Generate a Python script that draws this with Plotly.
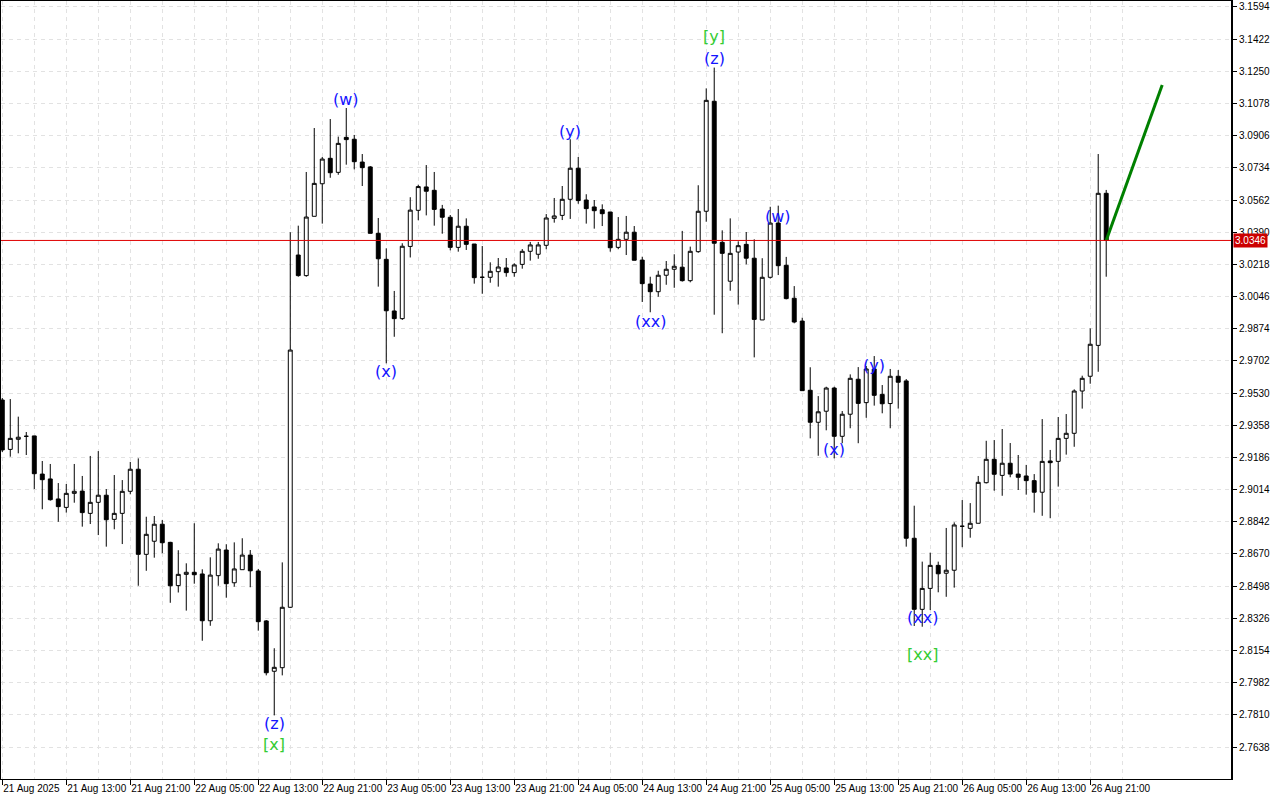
import pandas as pd
import plotly.graph_objects as go

# ---------------- data ----------------
times = pd.date_range("2025-08-21 05:00", periods=139, freq="h")

open_ = [2.9493, 2.9229, 2.9283, 2.9299, 2.9301, 2.9097, 2.9071, 2.8964, 2.8919, 2.8994,
         2.9006, 2.8887, 2.8946, 2.8984, 2.8855, 2.8887, 2.9005, 2.9123, 2.8668, 2.8738,
         2.8829, 2.8732, 2.8501, 2.8561, 2.8572, 2.8563, 2.8313, 2.8554, 2.8691, 2.8516,
         2.8586, 2.8664, 2.8579, 2.8312, 2.8043, 2.8062, 2.8385, 3.0268, 3.0158, 3.0475,
         3.0649, 3.0785, 3.0710, 3.0897, 3.0887, 3.0765, 3.0739, 3.0384, 3.0245, 2.9969,
         2.9928, 3.0314, 3.0507, 3.0632, 3.0614, 3.0514, 3.0470, 3.0309, 3.0422, 3.0327,
         3.0149, 3.0149, 3.0179, 3.0199, 3.0174, 3.0218, 3.0288, 3.0272, 3.0320, 3.0464,
         3.0480, 3.0566, 3.0732, 3.0562, 3.0525, 3.0510, 3.0498, 3.0309, 3.0352, 3.0390,
         3.0241, 3.0113, 3.0072, 3.0160, 3.0192, 3.0203, 3.0131, 3.0286, 3.0502, 3.1090,
         3.0336, 3.0128, 3.0284, 3.0325, 3.0251, 2.9921, 3.0149, 3.0439, 3.0213, 3.0037,
         2.9915, 2.9545, 2.9374, 2.9433, 2.9557, 2.9299, 2.9417, 2.9604, 2.9479, 2.9659,
         2.9523, 2.9474, 2.9620, 2.9595, 2.8754, 2.8374, 2.8486, 2.8609, 2.8567, 2.8583,
         2.8818, 2.8807, 2.8834, 2.9051, 2.9176, 2.9090, 2.9155, 2.9097, 2.9087, 2.9062,
         2.9000, 2.9167, 2.9165, 2.9288, 2.9315, 2.9541, 2.9620, 2.9785, 3.0598]

high = [2.9504, 2.9498, 2.9404, 2.9322, 2.9301, 2.9167, 2.9151, 2.9049, 2.9044, 2.9151,
        2.9087, 2.9194, 2.9220, 2.9017, 2.9092, 2.9065, 2.9162, 2.9181, 2.8869, 2.8873,
        2.8852, 2.8735, 2.8690, 2.8620, 2.8834, 2.8588, 2.8652, 2.8727, 2.8722, 2.8732,
        2.8754, 2.8691, 2.8590, 2.8317, 2.8166, 2.8625, 3.0390, 3.0425, 3.0712, 3.0947,
        3.0792, 3.0995, 3.0901, 3.1054, 3.0910, 3.0808, 3.0744, 3.0466, 3.0304, 3.0076,
        3.0331, 3.0577, 3.0644, 3.0749, 3.0712, 3.0536, 3.0482, 3.0514, 3.0464, 3.0327,
        3.0316, 3.0229, 3.0252, 3.0252, 3.0224, 3.0300, 3.0338, 3.0338, 3.0487, 3.0573,
        3.0637, 3.0887, 3.0792, 3.0593, 3.0562, 3.0539, 3.0498, 3.0471, 3.0477, 3.0423,
        3.0259, 3.0152, 3.0184, 3.0236, 3.0272, 3.0397, 3.0313, 3.0641, 3.1159, 3.1270,
        3.0400, 3.0464, 3.0341, 3.0391, 3.0352, 3.0251, 3.0526, 3.0532, 3.0258, 3.0102,
        2.9933, 2.9668, 2.9514, 2.9564, 2.9564, 2.9434, 2.9630, 2.9669, 2.9675, 2.9728,
        2.9573, 2.9659, 2.9653, 2.9605, 2.8928, 2.8629, 2.8677, 2.8629, 2.8809, 2.8839,
        2.8958, 2.8942, 2.9087, 2.9275, 2.9279, 2.9338, 2.9263, 2.9199, 2.9146, 2.9097,
        2.9391, 2.9226, 2.9402, 2.9418, 2.9550, 2.9623, 2.9876, 3.0808, 3.0616]

low = [2.9215, 2.9190, 2.9208, 2.9199, 2.9017, 2.8909, 2.8955, 2.8842, 2.8891, 2.8944,
       2.8816, 2.8830, 2.8771, 2.8709, 2.8802, 2.8723, 2.8989, 2.8500, 2.8580, 2.8650,
       2.8674, 2.8409, 2.8464, 2.8367, 2.8511, 2.8206, 2.8286, 2.8500, 2.8436, 2.8495,
       2.8586, 2.8492, 2.8260, 2.8021, 2.7807, 2.8021, 2.8381, 3.0152, 3.0152, 3.0475,
       3.0436, 3.0681, 3.0697, 3.0751, 3.0726, 3.0637, 3.0384, 3.0099, 2.9689, 2.9831,
       2.9921, 3.0255, 3.0454, 3.0480, 3.0425, 3.0382, 3.0293, 3.0286, 3.0295, 3.0115,
       3.0061, 3.0120, 3.0099, 3.0152, 3.0152, 3.0195, 3.0238, 3.0248, 3.0299, 3.0441,
       3.0455, 3.0461, 3.0542, 3.0436, 3.0409, 3.0423, 3.0286, 3.0299, 3.0268, 3.0240,
       3.0017, 2.9962, 3.0045, 3.0109, 3.0093, 3.0126, 3.0122, 3.0280, 3.0446, 2.9949,
       2.9850, 3.0077, 3.0003, 3.0218, 2.9721, 2.9921, 3.0142, 3.0161, 3.0031, 2.9903,
       2.9543, 2.9288, 2.9195, 2.9331, 2.9181, 2.9262, 2.9342, 2.9262, 2.9398, 2.9463,
       2.9422, 2.9342, 2.9447, 2.8709, 2.8285, 2.8281, 2.8370, 2.8465, 2.8441, 2.8490,
       2.8706, 2.8757, 2.8834, 2.9047, 2.9008, 2.8981, 2.9080, 2.9012, 2.8987, 2.8891,
       2.8874, 2.8861, 2.9030, 2.9201, 2.9243, 2.9447, 2.9580, 2.9644, 3.0152]

close = [2.9226, 2.9288, 2.9294, 2.9299, 2.9099, 2.9067, 2.8960, 2.8923, 2.8994, 2.9005,
         2.8891, 2.8946, 2.8984, 2.8853, 2.8887, 2.9005, 2.9123, 2.8668, 2.8775, 2.8829,
         2.8730, 2.8500, 2.8561, 2.8572, 2.8559, 2.8313, 2.8557, 2.8696, 2.8511, 2.8590,
         2.8664, 2.8580, 2.8308, 2.8035, 2.8064, 2.8385, 2.9760, 3.0158, 3.0471, 3.0651,
         3.0781, 3.0708, 3.0865, 3.0885, 3.0767, 3.0735, 3.0384, 3.0248, 2.9970, 2.9928,
         3.0315, 3.0508, 3.0634, 3.0609, 3.0512, 3.0470, 3.0309, 3.0422, 3.0325, 3.0147,
         3.0149, 3.0181, 3.0204, 3.0174, 3.0215, 3.0288, 3.0322, 3.0322, 3.0466, 3.0477,
         3.0566, 3.0732, 3.0559, 3.0516, 3.0505, 3.0489, 3.0307, 3.0352, 3.0390, 3.0240,
         3.0115, 3.0072, 3.0160, 3.0192, 3.0208, 3.0131, 3.0288, 3.0502, 3.1095, 3.0331,
         3.0277, 3.0277, 3.0318, 3.0251, 2.9924, 3.0149, 3.0439, 3.0211, 3.0035, 2.9910,
         2.9543, 2.9374, 2.9430, 2.9557, 2.9299, 2.9417, 2.9609, 2.9475, 2.9659, 2.9518,
         2.9473, 2.9620, 2.9588, 2.8754, 2.8374, 2.8486, 2.8609, 2.8564, 2.8583, 2.8825,
         2.8818, 2.8834, 2.9053, 2.9176, 2.9096, 2.9155, 2.9097, 2.9080, 2.9062, 2.9000,
         2.9165, 2.9158, 2.9288, 2.9315, 2.9541, 2.9609, 2.9791, 3.0598, 3.0346]

current_price = 3.0346

forecast_times = ["2025-08-26 23:00", "2025-08-27 06:00"]
forecast_prices = [3.0346, 3.1177]

price_ticks = [3.1594, 3.1422, 3.1250, 3.1078, 3.0906, 3.0734, 3.0562, 3.0390,
               3.0218, 3.0046, 2.9874, 2.9702, 2.9530, 2.9358, 2.9186, 2.9014,
               2.8842, 2.8670, 2.8498, 2.8326, 2.8154, 2.7982, 2.7810, 2.7638]

x_tick_times = pd.date_range("2025-08-21 05:00", periods=18, freq="8h")
x_tick_labels = ["21 Aug 2025", "21 Aug 13:00", "21 Aug 21:00", "22 Aug 05:00",
                 "22 Aug 13:00", "22 Aug 21:00", "23 Aug 05:00", "23 Aug 13:00",
                 "23 Aug 21:00", "24 Aug 05:00", "24 Aug 13:00", "24 Aug 21:00",
                 "25 Aug 05:00", "25 Aug 13:00", "25 Aug 21:00", "26 Aug 05:00",
                 "26 Aug 13:00", "26 Aug 21:00"]

wave_texts = ["(w)", "(x)", "(y)", "(xx)", "[y]", "(z)", "(w)", "(x)", "(y)",
              "(xx)", "[xx]", "(z)", "[x]"]
wave_times = ["2025-08-23 00:00", "2025-08-23 05:00", "2025-08-24 04:00",
              "2025-08-24 14:00", "2025-08-24 22:00", "2025-08-24 22:00",
              "2025-08-25 06:00", "2025-08-25 13:00", "2025-08-25 18:00",
              "2025-08-26 00:00", "2025-08-26 00:00", "2025-08-22 15:00",
              "2025-08-22 15:00"]
wave_prices = [3.1102, 2.9643, 3.0931, 2.9915, 3.1434, 3.1321, 3.0473, 2.9231,
               2.9680, 2.8329, 2.8130, 2.7766, 2.7654]
wave_degree = ["minor", "minor", "minor", "minor", "major", "minor", "minor",
               "minor", "minor", "minor", "major", "minor", "major"]

# ---------------- figure ----------------
BLUE = "#1414ff"
GREEN = "#33cc33"
GRID = "#e2e2e2"

fig = go.Figure()

fig.add_trace(go.Candlestick(
    x=times, open=open_, high=high, low=low, close=close,
    increasing=dict(fillcolor="white", line=dict(color="black", width=1)),
    decreasing=dict(fillcolor="black", line=dict(color="black", width=1)),
    whiskerwidth=0, showlegend=False, hoverinfo="skip",
))

fig.add_trace(go.Scatter(
    x=pd.to_datetime(forecast_times), y=forecast_prices, mode="lines",
    line=dict(color="#008000", width=3), showlegend=False, hoverinfo="skip",
))

fig.add_hline(y=current_price, line=dict(color="#e00000", width=1))

fig.add_annotation(
    x=1, xref="paper", xanchor="left", xshift=2,
    y=current_price, yref="y", yanchor="middle",
    text="3.0346", showarrow=False,
    font=dict(family="Liberation Sans", size=10, color="white"),
    bgcolor="#cc0000", borderpad=1,
)

for txt, t, p, deg in zip(wave_texts, wave_times, wave_prices, wave_degree):
    fig.add_annotation(
        x=pd.Timestamp(t), y=p, text=txt, showarrow=False,
        xanchor="center", yanchor="middle",
        font=dict(family="DejaVu Sans", size=16,
                  color=GREEN if deg == "major" else BLUE),
    )

fig.update_layout(
    width=1280, height=800,
    margin=dict(l=1, r=49, t=1, b=21, autoexpand=False),
    paper_bgcolor="white", plot_bgcolor="white",
    boxgap=0.3, boxgroupgap=0.3,
    font=dict(family="Liberation Sans", size=10, color="black"),
)

fig.update_xaxes(
    type="date",
    range=[pd.Timestamp("2025-08-21 04:50:24"), pd.Timestamp("2025-08-27 14:36")],
    rangeslider=dict(visible=False),
    tickmode="array", tickvals=x_tick_times, ticktext=x_tick_labels,
    tickangle=0, automargin=False,
    ticks="outside", ticklen=5, tickcolor="black",
    ticklabelposition="outside right",
    tickfont=dict(family="Liberation Sans", size=10, color="black"),
    showgrid=True, gridcolor=GRID, griddash="4px,4px", gridwidth=1,
    minor=dict(tickmode="array",
               tickvals=pd.date_range("2025-08-21 09:00", periods=18, freq="8h"),
               showgrid=True, gridcolor=GRID, griddash="4px,4px", ticks=""),
    showline=True, linecolor="black", linewidth=1, mirror=True,
    zeroline=False,
)

fig.update_yaxes(
    side="right", automargin=False,
    range=[2.7467, 3.1626],
    tickmode="array", tickvals=price_ticks,
    ticktext=[f"{v:.4f}" for v in price_ticks],
    ticks="outside", ticklen=4, tickcolor="black",
    tickfont=dict(family="Liberation Sans", size=10, color="black"),
    showgrid=True, gridcolor=GRID, griddash="4px,4px", gridwidth=1,
    showline=True, linecolor="black", linewidth=2, mirror=True,
    zeroline=False,
)

fig.write_html(
    "out.html",
    config={"displayModeBar": False},
    post_script="document.body.style.margin='0';document.body.style.overflow='hidden';",
)
